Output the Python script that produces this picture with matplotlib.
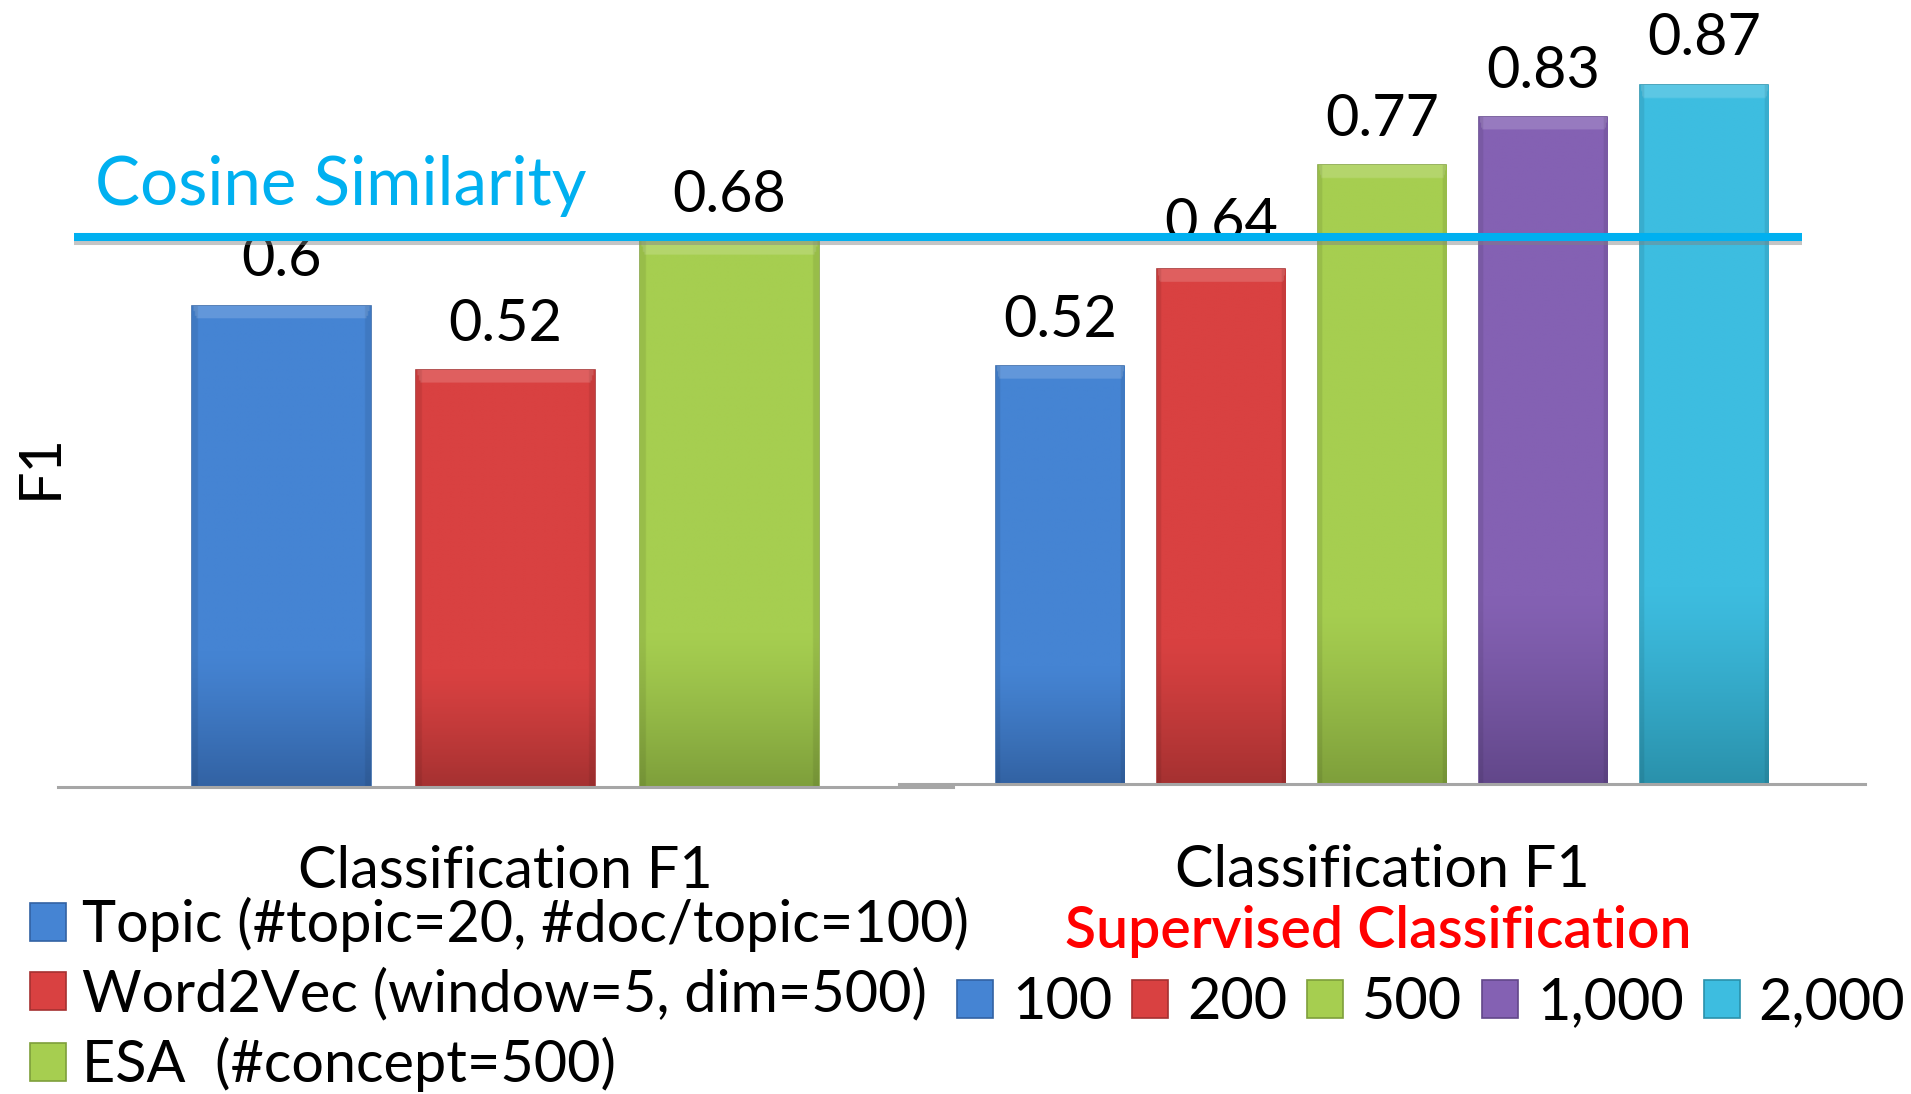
import numpy as np
import matplotlib
matplotlib.use("Agg")
import matplotlib.pyplot as plt
from matplotlib import patheffects as pe
from matplotlib.colors import to_rgb
from matplotlib.patches import Patch
from matplotlib.lines import Line2D
from matplotlib.transforms import blended_transform_factory

plt.rcParams['font.family'] = ['Lato', 'DejaVu Sans']

# ---- data -------------------------------------------------------------
category = 'Classification F1'

# dataless classification (cosine similarity on representations)
dl_methods = ['Topic (#topic=20, #doc/topic=100)',
              'Word2Vec (window=5, dim=500)',
              'ESA  (#concept=500)']
dl_f1 = [0.60, 0.52, 0.68]

# supervised classification, by number of labeled documents
sup_sizes = ['100', '200', '500', '1,000', '2,000']
sup_f1 = [0.52, 0.64, 0.77, 0.83, 0.87]

cosine_f1 = 0.685

# ---- styling ----------------------------------------------------------
base_cols = ['#4584D3', '#D94141', '#A6CE50', '#8461B3', '#3DBDE0']
dark_cols = ['#3262A3', '#A53131', '#7E9F3B', '#62478A', '#2A91AB']
edge_cols = ['#3A6BAA', '#A83636', '#86A544', '#674C90', '#2E96B0']
line_col = '#00B0F0'
axis_col = '#A6A6A6'
FS = 41.5

W, H = 1911, 1094
fig = plt.figure(figsize=(W / 100, H / 100), dpi=100)


def shade_bars(ax, bars):
    """Give each bar a bevelled top and a darker base."""
    for i, bar in enumerate(bars):
        x0, y0 = bar.get_x(), bar.get_y()
        w, h = bar.get_width(), bar.get_height()
        c = np.array(to_rgb(base_cols[i]))
        d = np.array(to_rgb(dark_cols[i]))
        t = np.linspace(0, 1, 400)[:, None, None]          # 0 = base, 1 = top
        s = np.linspace(0, 1, 120)[None, :, None]
        mix = np.clip((0.28 - t) / 0.28, 0, 1) ** 1.2
        rgb = c * (1 - mix) + d * mix
        # bevel: lighter band along the top edge
        bevel = 0.016 / h
        edge = np.minimum(s, 1 - s)
        depth = (1 - t) / bevel                             # 0 at top edge
        top = (depth < 1) & (edge * w / 0.8 * 6.0 > depth * 0.12)
        light = np.clip(c + (1 - c) * 0.16, 0, 1)
        rgb = np.where(top, light, rgb)
        side = np.where(edge < 0.03, 0.92, 1.0)
        rgb = rgb * side
        im = ax.imshow(rgb, extent=(x0, x0 + w, y0, y0 + h), origin='lower',
                       aspect='auto', zorder=2.1, interpolation='bilinear')
        im.set_clip_path(bar)


def style_axis(ax, pad):
    for side in ('top', 'right', 'left'):
        ax.spines[side].set_visible(False)
    ax.spines['bottom'].set_color(axis_col)
    ax.spines['bottom'].set_linewidth(2.2)
    ax.set_yticks([])
    ax.set_ylim(0, 0.9)
    ax.tick_params(axis='x', length=0, pad=pad)
    ax.patch.set_alpha(0)


def label_bars(ax, bars, values):
    for bar, v in zip(bars, values):
        ax.annotate(f'{v:g}', xy=(bar.get_x() + bar.get_width() / 2, v),
                    xytext=(0, 21), textcoords='offset points',
                    ha='center', va='baseline', fontsize=FS, zorder=3,
                    annotation_clip=False)


# ---- left panel: dataless classification ------------------------------
ax1 = fig.add_axes([58 / W, 1 - 787 / H, 895 / W, 722 / H])
x1 = np.arange(len(dl_f1))
bars1 = ax1.bar(x1, dl_f1, width=0.8, color=base_cols[:3],
                edgecolor=edge_cols[:3], linewidth=1.2, zorder=2)
shade_bars(ax1, bars1)
ax1.set_xlim(-1, 3)
style_axis(ax1, 72.7)
ax1.set_xticks([1], [category], fontsize=FS, va='baseline')
label_bars(ax1, bars1, dl_f1)

h1 = [Patch(facecolor=base_cols[i], edgecolor=dark_cols[i], linewidth=1.2)
      for i in range(3)]
ax1.legend(h1, dl_methods, loc='upper left',
           bbox_to_anchor=(30 / W, 1 - 897 / H), bbox_transform=fig.transFigure,
           frameon=False, fontsize=FS, handlelength=0.62, handleheight=0.64,
           handletextpad=0.28, labelspacing=0.27, borderpad=0, borderaxespad=0)

# ---- right panel: supervised classification ---------------------------
ax2 = fig.add_axes([899 / W, 1 - 784 / H, 966 / W, 723.6 / H])
x2 = np.arange(len(sup_f1))
bars2 = ax2.bar(x2, sup_f1, width=0.8, color=base_cols,
                edgecolor=edge_cols, linewidth=1.2, zorder=2)
shade_bars(ax2, bars2)
ax2.set_xlim(-1, 5)
style_axis(ax2, 74.2)
ax2.set_xticks([2], [category], fontsize=FS, va='baseline')
label_bars(ax2, bars2, sup_f1)

h2 = [Patch(facecolor=base_cols[i], edgecolor=dark_cols[i], linewidth=1.2)
      for i in range(5)]
ax2.legend(h2, sup_sizes, loc='upper left', ncol=5,
           bbox_to_anchor=(957 / W, 1 - 976 / H), bbox_transform=fig.transFigure,
           frameon=False, fontsize=FS, handlelength=0.62, handleheight=0.64,
           handletextpad=0.33, columnspacing=0.35, borderpad=0, borderaxespad=0)
fig.text(1378 / W, 1 - 948 / H, 'Supervised Classification', color='#FF0000',
         fontsize=41, fontweight='semibold', ha='center', va='baseline')

# ---- cosine-similarity reference line across both panels --------------
tr = blended_transform_factory(fig.transFigure, ax1.transData)
ref = Line2D([74 / W, 1802 / W], [cosine_f1, cosine_f1], transform=tr,
             color=line_col, linewidth=5.8, zorder=5, solid_capstyle='butt',
             path_effects=[pe.SimpleLineShadow(offset=(0, -2.5),
                                               shadow_color='#808080', alpha=0.45),
                           pe.Normal()])
fig.add_artist(ref)
fig.text(95 / W, 1 - 205 / H, 'Cosine Similarity', color=line_col,
         fontsize=48.5, ha='left', va='baseline')

fig.text(57 / W, 1 - 466 / H, 'F1', rotation=90, rotation_mode='anchor',
         ha='center', va='baseline', fontsize=FS)

fig.savefig('out.png', dpi=100)
